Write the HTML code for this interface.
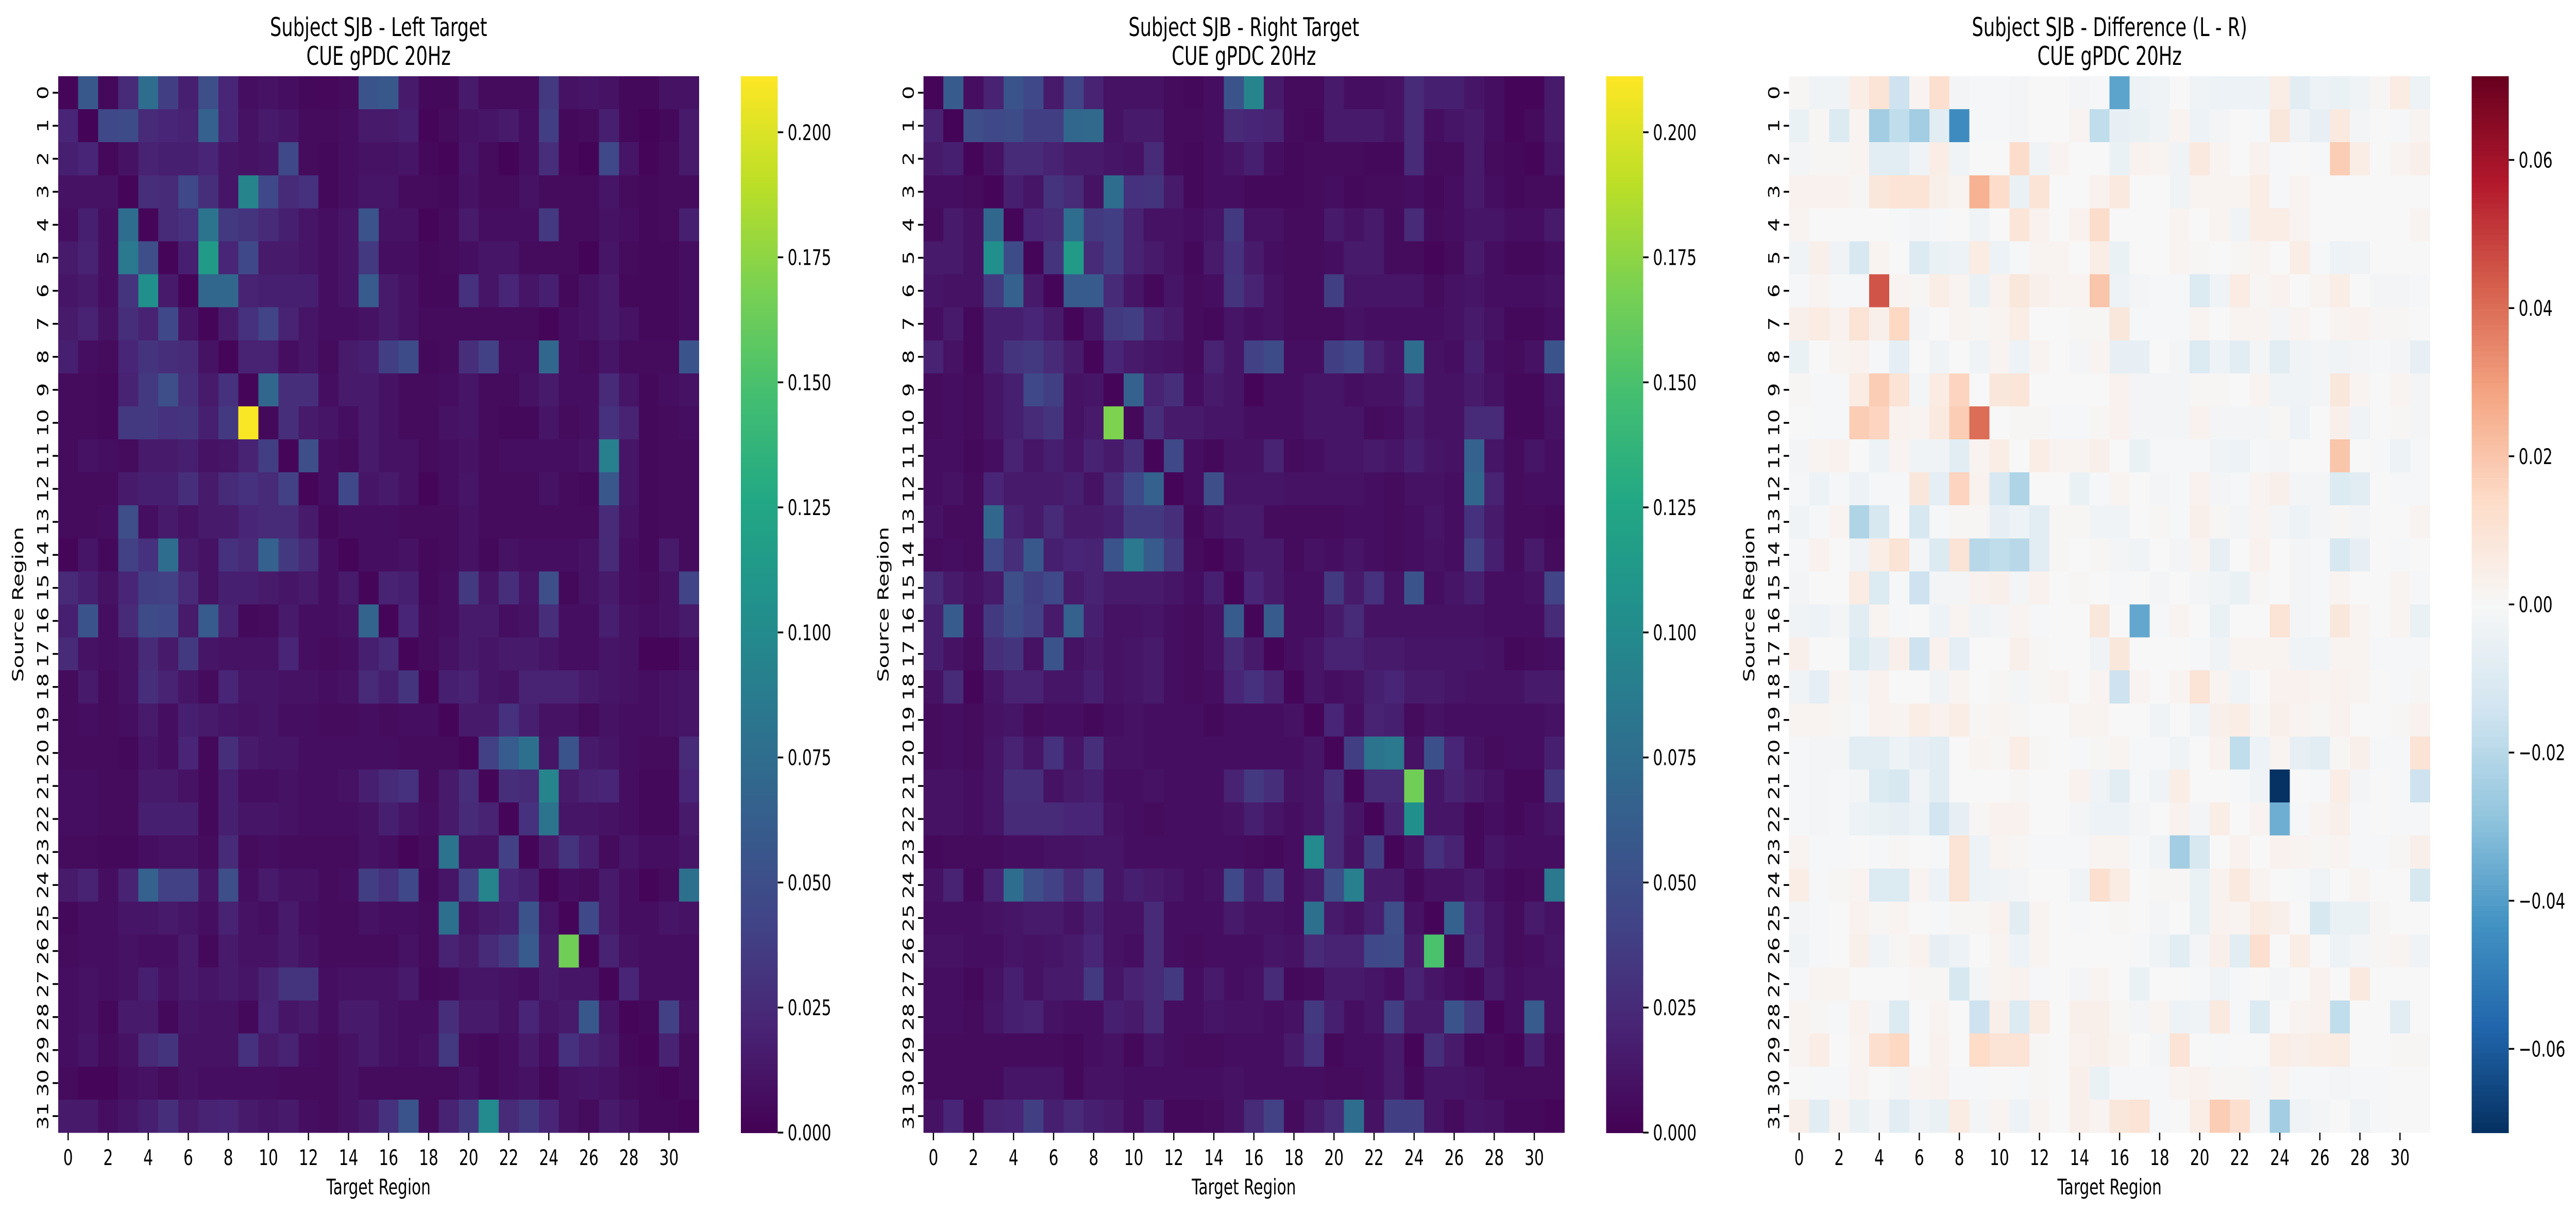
<!DOCTYPE html>
<html><head><meta charset="utf-8"><title>Subject SJB gPDC</title>
<style>
html,body{margin:0;padding:0;background:#fff;width:100%;height:100%;overflow:hidden;}
svg{display:block;width:100vw;height:100vh;font-family:"DejaVu Sans","Liberation Sans",sans-serif;}
</style></head>
<body>
<svg id="fig" viewBox="0 0 7094 2359" preserveAspectRatio="none" xmlns="http://www.w3.org/2000/svg"></svg>
<script>
// ---- data (values in thousandths) ----
const regionLabels = Array.from({length:32},(_, i)=>String(i));
const xTickLabels = ["0","2","4","6","8","10","12","14","16","18","20","22","24","26","28","30"];
const viridisTicks = [0,0.025,0.05,0.075,0.1,0.125,0.15,0.175,0.2];
const diffTicks = [-0.06,-0.04,-0.02,0,0.02,0.04,0.06];
const leftVals = [
[3,58,5,25,75,38,18,50,22,8,10,8,5,4,6,55,58,15,5,5,15,6,6,6,35,10,12,10,5,5,10,10],
[22,2,45,48,25,22,20,65,22,10,15,12,6,6,8,15,15,18,3,6,10,12,15,8,38,5,6,18,5,2,5,15],
[18,22,4,10,20,18,18,22,12,10,12,45,6,5,8,10,10,12,5,3,12,6,2,8,28,4,2,45,12,3,6,15],
[10,10,10,3,28,25,45,28,12,95,45,25,30,5,8,12,12,6,6,5,10,6,6,10,6,6,6,12,6,5,6,6],
[8,18,8,75,3,25,30,80,35,32,25,18,12,8,12,55,10,10,3,6,15,8,8,8,35,6,6,10,8,5,6,18],
[15,20,8,85,50,3,18,115,22,45,15,15,12,8,12,35,8,8,5,6,8,12,12,6,6,6,2,12,6,5,5,8],
[12,15,8,32,105,15,3,70,70,20,18,18,18,8,12,60,15,10,5,5,30,12,22,12,18,5,10,15,5,5,5,8],
[15,20,10,28,20,45,12,3,15,30,42,20,12,8,8,10,15,10,6,6,6,6,6,6,3,8,10,15,10,5,5,8],
[18,8,6,22,32,28,25,10,3,20,20,8,12,6,15,18,38,48,5,6,28,40,8,8,70,8,6,12,6,6,6,55],
[6,6,5,20,35,50,28,15,30,3,70,28,28,8,15,15,10,6,6,8,12,6,6,10,15,8,8,25,12,5,8,10],
[6,6,5,35,35,30,32,18,35,210,5,28,15,12,8,15,10,6,6,10,12,6,5,5,12,6,8,30,20,5,6,8],
[6,10,8,6,15,15,18,10,12,20,38,3,50,8,6,15,10,10,6,8,10,6,8,8,8,8,10,90,12,5,6,6],
[6,6,6,15,18,18,28,15,25,30,25,40,3,8,45,12,15,10,3,8,12,6,6,6,10,6,5,58,12,5,6,6],
[6,6,8,50,8,15,10,15,15,22,25,25,15,5,8,8,8,6,6,6,10,6,6,6,6,6,6,25,10,5,6,6],
[3,12,5,40,30,75,15,10,30,25,65,35,25,8,3,8,8,10,5,6,10,5,10,8,8,8,10,25,8,5,15,6],
[25,18,10,22,38,40,25,10,18,18,15,12,15,8,15,3,20,18,5,8,35,12,28,12,50,5,10,15,8,6,10,42],
[18,55,8,25,48,45,15,60,20,5,6,15,8,8,10,68,3,22,6,8,15,15,8,10,28,8,8,18,10,8,10,15],
[25,10,8,10,25,15,35,12,10,10,10,22,8,6,8,18,25,3,6,10,15,12,15,15,12,8,8,12,10,3,3,8],
[6,15,6,10,28,20,12,6,22,12,12,10,10,8,10,25,18,32,3,18,20,12,10,20,20,20,15,12,10,8,10,12],
[6,8,6,8,15,8,18,15,12,10,12,8,8,6,6,8,6,8,8,3,15,15,30,18,10,10,6,10,8,8,10,12],
[6,6,6,5,12,8,22,5,28,15,12,12,8,8,8,8,8,6,6,6,3,40,62,78,12,55,15,12,8,6,6,25],
[8,8,6,6,15,15,10,5,18,8,8,10,8,8,10,18,25,30,6,15,28,3,28,25,95,15,20,22,8,5,5,22],
[8,8,6,6,18,18,18,5,18,12,12,10,8,8,8,10,18,12,8,15,25,20,3,30,80,12,12,10,8,5,5,15],
[6,6,5,5,8,10,10,6,25,6,8,6,6,6,6,10,8,3,6,80,10,10,40,3,15,32,18,6,12,8,8,12],
[15,20,8,20,65,40,40,12,50,8,15,10,10,6,8,38,30,45,5,12,40,95,22,18,3,8,6,15,8,3,6,78],
[5,8,8,12,12,15,12,8,20,10,8,15,8,6,6,10,8,8,6,78,10,15,18,55,12,3,45,15,8,8,12,10],
[6,8,8,10,8,8,15,5,15,10,10,15,10,6,6,6,6,10,6,20,15,25,35,60,15,165,3,20,10,8,8,8],
[8,10,8,10,18,10,15,12,15,12,20,32,32,8,10,10,10,15,5,6,12,12,10,8,15,12,12,3,22,8,8,8],
[8,10,5,15,15,5,12,10,10,5,22,12,15,8,15,15,10,8,8,28,15,15,10,22,12,15,58,12,3,5,40,10],
[8,12,6,10,25,32,10,10,10,30,15,20,8,6,10,15,10,8,10,35,6,5,8,15,8,30,20,15,5,3,20,6],
[6,3,3,8,10,6,10,8,8,8,8,6,6,6,10,6,6,6,6,6,10,5,8,10,5,10,12,10,6,5,3,6],
[15,15,8,12,18,28,15,20,22,15,12,15,8,6,10,15,30,55,6,20,35,100,25,35,22,10,6,15,10,5,5,3]
];
const rightVals = [
[3,60,8,20,55,45,15,42,20,10,10,10,6,5,8,55,95,15,6,6,15,8,8,10,25,18,18,12,8,3,3,15],
[20,2,50,45,48,38,38,70,72,10,15,15,6,6,8,25,22,20,6,5,15,15,15,10,25,8,12,15,8,3,6,15],
[15,18,3,10,25,25,20,15,15,12,10,25,6,5,8,12,18,8,5,6,6,6,5,5,25,6,6,15,6,5,3,12],
[8,8,6,3,18,12,32,25,10,75,30,32,15,5,8,8,5,5,5,6,8,5,6,6,8,5,8,15,8,5,6,6],
[6,15,10,70,3,22,25,75,35,38,20,10,10,8,12,35,10,10,6,6,15,10,15,6,25,6,8,12,12,8,8,15],
[15,15,10,105,48,3,32,115,25,38,20,15,10,5,15,30,15,8,6,6,8,15,15,6,6,3,6,15,8,5,5,8],
[12,10,10,35,65,15,3,60,60,25,12,5,12,6,8,32,20,10,6,6,38,12,12,12,12,6,10,12,8,8,8,10],
[8,15,5,18,18,22,15,3,12,35,38,20,15,6,5,12,8,10,6,6,6,10,8,8,8,8,10,15,10,5,5,8],
[20,10,5,18,32,35,25,15,3,22,15,12,10,6,20,12,40,48,8,8,38,45,20,12,75,10,8,18,8,6,10,55],
[6,8,6,12,18,45,38,10,12,3,65,20,28,8,15,12,3,8,8,12,12,8,10,10,20,10,10,15,10,5,5,12],
[6,8,6,12,18,25,32,10,15,170,5,28,15,15,12,12,8,8,8,12,12,12,6,8,15,10,10,25,25,5,5,10],
[8,8,5,8,20,12,18,12,20,15,28,3,45,8,5,10,10,20,6,8,12,12,15,12,18,12,10,65,12,6,12,8],
[8,10,6,22,15,15,15,18,10,25,45,65,3,8,50,12,12,12,10,10,10,10,8,6,10,10,8,70,20,6,8,8],
[10,6,6,70,20,15,25,15,15,18,35,35,28,5,10,15,15,6,6,6,6,8,8,6,8,12,8,30,15,6,6,5],
[6,8,6,45,28,58,18,22,20,55,85,60,35,6,3,8,15,15,6,10,8,12,8,6,8,10,8,40,18,6,15,6],
[25,15,10,15,50,38,45,15,20,15,15,15,12,8,18,3,22,15,8,8,35,15,30,10,55,8,12,18,8,8,10,42],
[18,60,8,35,48,40,15,65,18,10,10,12,8,6,10,60,3,60,8,8,15,25,10,10,10,10,10,10,8,8,8,25],
[18,10,6,28,32,10,55,10,15,10,12,15,8,6,10,25,15,3,8,12,20,20,15,15,12,12,12,12,10,5,6,8],
[10,25,3,12,20,20,12,12,18,10,12,15,8,6,8,22,30,20,3,12,8,10,18,22,15,15,12,10,10,10,15,15],
[6,8,6,10,12,6,8,8,5,8,10,8,8,8,5,8,8,8,10,3,22,8,20,18,6,10,8,8,8,8,8,10],
[6,8,6,12,20,12,30,12,28,10,10,8,8,8,8,8,8,8,8,12,3,38,80,85,10,52,22,10,6,8,8,18],
[10,10,8,12,28,28,10,15,18,8,8,10,8,8,8,20,35,28,10,12,28,3,25,25,165,12,20,15,10,5,5,32],
[10,10,8,12,25,25,25,22,22,10,8,6,8,8,8,10,18,12,8,12,25,12,3,20,105,12,12,5,8,5,8,12],
[5,6,6,6,8,8,10,10,12,12,8,8,8,8,8,8,6,5,8,100,25,10,38,3,10,30,20,5,12,8,8,8],
[10,20,5,20,75,50,40,25,40,12,18,15,12,8,10,45,18,40,8,15,50,90,15,15,5,10,10,15,8,5,6,85],
[8,8,8,10,12,15,15,10,18,10,10,25,8,8,8,15,10,10,8,78,15,10,18,50,10,3,65,22,12,6,15,10],
[10,10,8,8,12,10,12,15,22,10,8,25,8,6,8,8,8,12,10,25,20,20,45,48,15,150,5,25,12,6,8,12],
[8,8,5,10,18,10,15,15,35,12,20,25,35,8,15,8,10,25,5,6,15,15,12,8,20,12,8,5,15,8,10,10],
[8,8,6,12,18,20,10,8,8,18,15,25,8,8,12,10,10,8,10,35,18,8,12,38,15,15,55,35,3,8,60,10],
[6,6,6,6,6,6,6,5,8,10,5,12,8,6,6,8,8,8,15,30,5,8,8,15,3,28,15,5,6,3,18,6],
[6,6,6,6,12,12,12,5,10,10,8,8,8,8,8,10,8,8,8,8,6,6,8,15,5,12,12,10,6,6,6,6],
[10,22,5,20,22,38,18,25,18,15,8,18,5,5,6,10,25,40,6,15,25,75,10,38,38,12,6,12,10,5,5,3]
];
const diffVals = [
[1,-3,-3,5,10,-15,2,12,-2,-1,-1,-2,0,0,-2,-1,-38,-4,-3,0,-3,-4,-4,-4,5,-8,-4,-5,-3,1,6,-4],
[-5,1,-10,2,-25,-18,-25,-8,-45,-1,-1,-2,0,0,2,-18,-6,-5,-3,2,-4,-2,0,-1,8,-3,-6,7,-2,0,-1,2],
[-2,1,1,2,-8,-8,-3,5,-3,0,0,13,-3,2,0,0,-5,3,2,-3,7,2,0,3,-1,0,-1,18,5,0,2,4],
[3,3,3,1,8,10,10,4,2,25,13,-5,10,0,0,3,7,0,0,-3,2,2,2,5,-1,2,0,0,0,0,0,0],
[2,0,0,0,0,-1,-2,-1,0,-3,0,9,3,0,3,13,0,0,0,2,0,2,-3,5,5,2,0,0,0,0,0,2],
[-3,4,-3,-12,2,0,-10,-5,-4,6,-4,-1,2,2,0,5,-5,0,0,2,1,0,1,2,0,5,-1,-4,-3,0,0,0],
[-1,2,-1,-1,45,2,1,5,2,-5,3,8,4,2,2,20,-4,-2,-1,-1,-10,-3,6,1,3,0,2,5,0,-2,-2,-1],
[4,6,3,10,4,15,-2,0,2,1,2,5,0,0,1,1,8,-1,-1,-1,2,0,2,2,-2,2,0,2,3,1,1,0],
[-5,0,2,3,-1,-7,0,-3,0,-3,2,-4,2,0,-2,2,-6,-6,0,-2,-10,-4,-8,-2,-8,-3,-2,-3,-2,-1,-2,-6],
[1,-1,-1,6,18,10,-2,6,16,0,8,9,0,0,0,0,3,-2,-2,-2,1,1,0,2,-3,-3,-2,8,2,0,2,-2],
[0,-1,-1,18,16,3,2,7,18,40,0,1,1,-1,-1,1,3,-2,-2,-2,3,-2,-2,-2,1,-4,0,4,-3,0,1,-2],
[-2,2,3,0,-4,2,-3,-3,-8,2,5,0,5,2,2,4,0,-5,-1,-1,-1,-3,-4,-1,-2,0,0,20,0,-1,-4,-1],
[-1,-4,-1,-4,-1,-1,8,-7,16,3,-12,-22,0,0,-5,-1,2,0,-2,-1,3,-2,-1,2,4,-2,-2,-10,-8,0,-1,-1],
[-3,-1,2,-22,-12,0,-12,-1,1,1,-6,-4,-8,1,1,-3,-3,0,1,-1,4,1,-2,2,-2,-4,-2,1,-2,0,0,2],
[-1,3,0,-3,5,10,-2,-10,10,-20,-18,-20,-8,1,0,1,-2,-3,0,-2,2,-6,0,3,0,-2,-1,-12,-6,0,-1,0],
[-2,0,0,6,-10,-1,-15,-2,-2,3,4,-2,3,0,1,0,-1,0,-2,0,-2,-3,-5,1,0,-2,-1,2,0,0,2,-1],
[-3,-4,-2,-8,2,-1,0,-4,2,-3,-2,2,-1,0,0,8,0,-37,-1,2,0,-5,0,0,10,-2,-1,8,2,0,2,-5],
[4,0,0,-10,-6,4,-15,3,-7,0,0,4,1,0,0,-3,8,0,0,0,-1,-3,2,2,2,-3,-3,2,2,-1,-1,-1],
[-3,-7,2,-2,3,0,0,-3,2,0,1,-2,1,2,0,2,-15,2,0,2,10,2,-3,0,3,3,2,3,2,0,-1,1],
[2,2,1,-1,3,2,5,3,5,1,2,1,0,0,2,2,0,0,-3,0,-3,4,5,1,4,2,1,3,0,0,1,3],
[-1,-2,-2,-8,-8,-4,-6,-8,0,2,1,5,1,0,-1,1,2,-1,-1,-3,0,3,-18,-4,2,-6,-8,1,4,-1,-1,10],
[-1,-2,-1,-2,-10,-12,-3,-8,0,0,0,1,0,0,3,-3,-8,-1,-3,5,0,0,-1,-3,-71,0,-1,5,-2,0,-1,-15],
[-1,-2,-1,-4,-5,-6,-4,-14,-6,1,3,3,0,0,-2,-4,-4,-2,0,3,-2,5,0,2,-35,-1,2,4,-1,0,-1,-1],
[2,-1,-1,0,-1,1,0,-1,10,-4,2,1,-1,-1,-1,2,2,-1,-3,-25,-12,0,3,0,3,2,1,2,-1,-1,1,4],
[5,-1,1,2,-10,-10,2,-4,10,-4,-3,-2,0,0,-3,12,6,0,1,1,-5,3,7,2,0,-1,-3,0,2,0,0,-12],
[-2,-1,0,3,1,2,0,-1,1,1,3,-8,2,0,-1,0,1,0,-2,0,-5,3,2,6,4,0,-12,-5,-5,1,0,0],
[-3,-1,0,4,-3,1,3,-6,-4,0,2,-4,2,0,0,0,0,-1,-3,-8,-2,4,-8,12,0,5,0,-4,-2,1,2,-3],
[-1,2,2,0,0,0,1,1,-12,-2,2,3,-1,0,-2,2,0,-5,0,0,-1,-3,-1,0,-2,0,3,0,7,0,0,0],
[2,1,-1,3,-2,-10,0,2,0,-15,4,-10,6,0,4,4,1,-2,2,-4,-3,7,-1,-10,0,2,3,-18,0,0,-8,0],
[2,5,0,2,12,15,0,3,0,14,10,10,1,0,3,4,2,0,-2,10,0,-1,0,0,5,4,5,6,0,0,1,1],
[0,-1,-1,2,0,-2,2,3,-1,-1,0,-1,1,0,4,-5,-1,-1,-1,2,3,1,1,-2,2,-1,-1,-2,-1,-1,0,0],
[4,-8,2,-5,-2,-8,-3,-5,6,-2,2,-4,2,0,4,2,8,10,-1,0,5,18,12,-2,-25,-3,-2,0,-3,-1,0,0]
];

// ---- colormaps ----
const VIR = ["#440154","#482475","#414487","#355f8d","#2a788e","#21918c","#22a884","#44bf70","#7ad151","#bddf26","#fde725"];
const RDBU = ["#053061","#2166ac","#4393c3","#92c5de","#d1e5f0","#f7f7f7","#fddbc7","#f4a582","#d6604d","#b2182b","#67001f"];
function hex(h){return [parseInt(h.substr(1,2),16),parseInt(h.substr(3,2),16),parseInt(h.substr(5,2),16)];}
function cmap(stops,t){
  t=Math.max(0,Math.min(1,t));
  const p=t*(stops.length-1), i=Math.min(Math.floor(p),stops.length-2), f=p-i;
  const a=hex(stops[i]), b=hex(stops[i+1]);
  return "rgb("+a.map((v,k)=>Math.round(v+(b[k]-v)*f)).join(",")+")";
}

const NS="http://www.w3.org/2000/svg";
const svg=document.getElementById("fig");
function el(tag,attrs,parent){const e=document.createElementNS(NS,tag);for(const k in attrs)e.setAttribute(k,attrs[k]);(parent||svg).appendChild(e);return e;}

const TOP=148, H=2051, W=1765, CBW=102, CBOFF=1880;
const panels=[
 {left:160, vals:leftVals, vmin:0, vmax:0.2112, stops:VIR, ticks:viridisTicks, fmt:v=>v.toFixed(3), t1:"Subject SJB - Left Target", name:"left-target"},
 {left:2543, vals:rightVals, vmin:0, vmax:0.2112, stops:VIR, ticks:viridisTicks, fmt:v=>v.toFixed(3), t1:"Subject SJB - Right Target", name:"right-target"},
 {left:4927, vals:diffVals, vmin:-0.0713, vmax:0.0713, stops:RDBU, ticks:diffTicks, fmt:v=>(v<0?"\u2212":"")+Math.abs(v).toFixed(2), t1:"Subject SJB - Difference (L - R)", name:"difference"}
];

panels.forEach(p=>{
  const g=el("g",{});
  
  
  const nR=p.vals.length, nC=p.vals[0].length;
  const cw=W/nC, ch=H/nR;
  const xS=c=>p.left+c*cw, yS=r=>TOP+r*ch;
  const cS=v=>(v-p.vmin)/(p.vmax-p.vmin);
  const hm=el("g",{"shape-rendering":"crispEdges"},g);
  
  
  for(let r=0;r<nR;r++)for(let c=0;c<nC;c++){
    const v=p.vals[r][c]/1000;
    const rc=el("rect",{x:xS(c).toFixed(2),y:yS(r).toFixed(2),width:(cw+0.6).toFixed(2),height:(ch+0.6).toFixed(2),fill:cmap(p.stops,cS(v))},hm);
    
    
  }
  const cx=p.left+W/2;
  const t1=el("text",{x:cx,y:70,"text-anchor":"middle","font-size":50},g); t1.textContent=p.t1;
  
  
  const t2=el("text",{x:cx,y:126,"text-anchor":"middle","font-size":50},g); t2.textContent="CUE gPDC 20Hz";
  
  
  const bot=TOP+H;
  xTickLabels.forEach(l=>{
    const c=+l, x=xS(c)+cw/2;
    el("line",{x1:x,x2:x,y1:bot,y2:bot+15,stroke:"#000","stroke-width":3.5},g);
    const t=el("text",{x:x,y:bot+63,"text-anchor":"middle","font-size":42},g); t.textContent=l;
    
    
  });
  const xl=el("text",{x:cx,y:bot+120,"text-anchor":"middle","font-size":42},g); xl.textContent="Target Region";
  
  
  regionLabels.forEach((l,r)=>{
    const y=yS(r)+ch/2;
    el("line",{x1:p.left-15,x2:p.left,y1:y,y2:y,stroke:"#000","stroke-width":3.5},g);
    const t=el("text",{x:p.left-27,y:y,"text-anchor":"middle","font-size":42,transform:"rotate(-90 "+(p.left-27)+" "+y+")"},g); t.textContent=l;
    
    
  });
  const yc=TOP+H/2;
  const yl=el("text",{x:p.left-96,y:yc,"text-anchor":"middle","font-size":42,transform:"rotate(-90 "+(p.left-96)+" "+yc+")"},g); yl.textContent="Source Region";
  
  
  const cbx=p.left+CBOFF;
  const cb=el("g",{"shape-rendering":"crispEdges"},g);
  
  
  const N=200;
  for(let i=0;i<N;i++){
    const t=(i+0.5)/N;
    el("rect",{x:cbx,y:(TOP+H-(i+1)*H/N).toFixed(2),width:CBW,height:(H/N+0.8).toFixed(2),fill:cmap(p.stops,t)},cb);
  }
  p.ticks.forEach(v=>{
    const y=TOP+H-cS(v)*H;
    el("line",{x1:cbx+CBW,x2:cbx+CBW+15,y1:y,y2:y,stroke:"#000","stroke-width":3.5},g);
    const t=el("text",{x:cbx+CBW+27,y:y+15,"font-size":42},g); t.textContent=p.fmt(v);
    
    
  });
});
</script>
</body></html>
